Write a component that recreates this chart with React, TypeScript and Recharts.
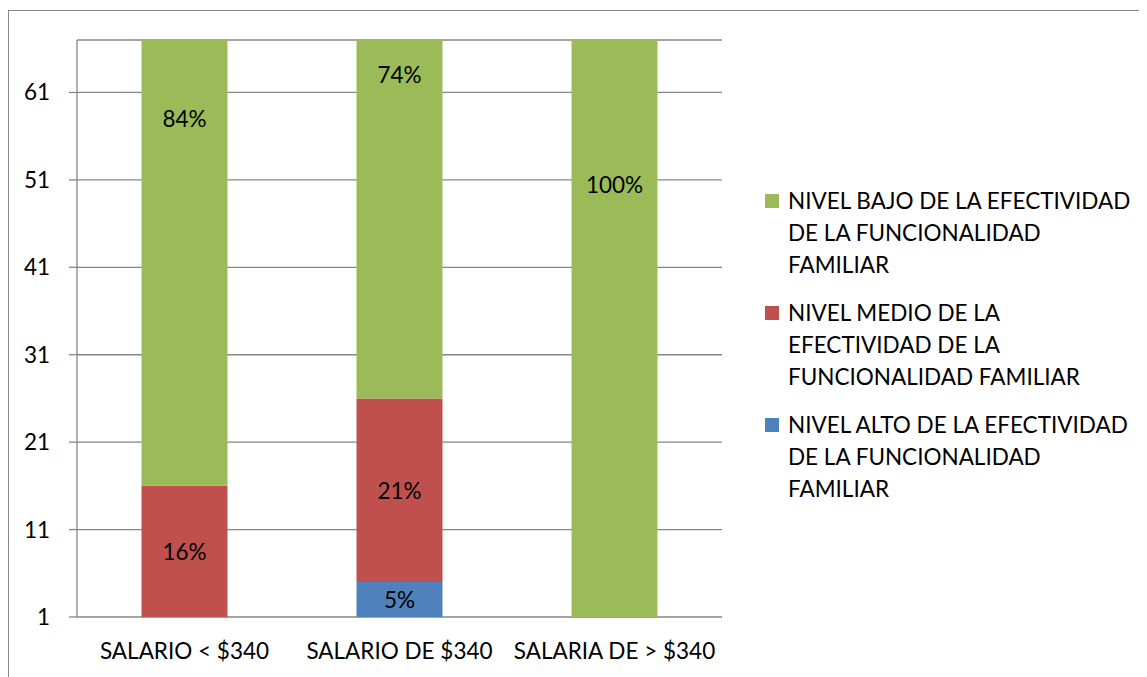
import React from 'react';
import * as RC from 'recharts';
import { BarChart, Bar, XAxis, YAxis, CartesianGrid, Legend, LabelList } from 'recharts';

const categories = ['SALARIO < $340', 'SALARIO DE $340', 'SALARIA DE > $340'];
const alto = [0, 5, 0];
const medio = [16, 21, 0];
const bajo = [84, 74, 100];
const yTicks = [1, 11, 21, 31, 41, 51, 61];
const boundaryTicks = [0, 1, 2, 3];

const seriesKeys = ['alto', 'medio', 'bajo'];
const seriesColors: Record<string, string> = { alto: '#4F81BD', medio: '#C0504D', bajo: '#9BBB59' };
const legendItems = [
  { key: 'bajo', lines: ['NIVEL BAJO DE LA EFECTIVIDAD', 'DE LA FUNCIONALIDAD', 'FAMILIAR'] },
  { key: 'medio', lines: ['NIVEL MEDIO DE LA', 'EFECTIVIDAD DE LA', 'FUNCIONALIDAD FAMILIAR'] },
  { key: 'alto', lines: ['NIVEL ALTO DE LA EFECTIVIDAD', 'DE LA FUNCIONALIDAD', 'FAMILIAR'] },
];
const seriesNames: Record<string, string> = {
  bajo: 'NIVEL BAJO DE LA EFECTIVIDAD DE LA FUNCIONALIDAD FAMILIAR',
  medio: 'NIVEL MEDIO DE LA EFECTIVIDAD DE LA FUNCIONALIDAD FAMILIAR',
  alto: 'NIVEL ALTO DE LA EFECTIVIDAD DE LA FUNCIONALIDAD FAMILIAR',
};

const Y_MIN = 1;
const Y_MAX = 67;

const data = categories.map((c, i) => ({ name: c, alto: alto[i], medio: medio[i], bajo: bajo[i] }));

const FONT = 'Lato, "Open Sans", sans-serif';
const FS = 22.5;
const GRID = '#868686';

const usePlotAreaSafe: () => any = (RC as any).usePlotArea || (() => null);

function SegLabel(props: any) {
  const plot = usePlotAreaSafe();
  const { x, y, width, height, value, index, seriesKey } = props;
  if (!value) return null;
  const row: any = data[index];
  const order = seriesKeys.indexOf(seriesKey);
  let start = 0;
  for (let k = 0; k < order; k++) start += row[seriesKeys[k]];
  let cy = y + height / 2;
  if (plot && plot.height) {
    const ppu = plot.height / (Y_MAX - Y_MIN);
    const px = (v: number) => plot.y + (Y_MAX - v) * ppu;
    cy = (px(start + value) + px(Math.max(start, Y_MIN))) / 2;
  }
  return (
    <text x={x + width / 2} y={cy} textAnchor="middle" dominantBaseline="central" fontSize={FS} fill="#000" fontFamily={FONT}>
      {value + '%'}
    </text>
  );
}

const LegendContent = () => (
  <div style={{ fontFamily: FONT, fontSize: FS, color: '#000' }}>
    {legendItems.map((it) => (
      <div key={it.key} style={{ display: 'flex', marginBottom: 16 }}>
        <div style={{ width: 14, height: 14, background: seriesColors[it.key], marginTop: 9, marginRight: 9, flexShrink: 0 }} />
        <div style={{ lineHeight: '32px', whiteSpace: 'nowrap' }}>
          {it.lines.map((l, j) => (
            <div key={j}>{l}</div>
          ))}
        </div>
      </div>
    ))}
  </div>
);

export default function App() {
  return (
    <div style={{ position: 'relative', width: 1139, height: 669, overflow: 'hidden', background: '#fff' }}>
      <div style={{ position: 'absolute', left: 0, top: 2, width: 1300, height: 800, borderLeft: `1px solid ${GRID}`, borderTop: `1px solid ${GRID}` }} />
      <BarChart
        width={1139}
        height={669}
        data={data}
        margin={{ top: 32, right: 425, left: 0, bottom: 0 }}
        barCategoryGap="30%"
        style={{ position: 'absolute', left: 0, top: 0 }}
      >
        <CartesianGrid vertical={false} stroke={GRID} strokeWidth={1.3} />
        <XAxis
          xAxisId="b"
          type="number"
          domain={[0, 3]}
          ticks={boundaryTicks}
          tick={false}
          height={0}
          axisLine={{ stroke: GRID, strokeWidth: 1.3 }}
          tickLine={{ stroke: GRID, strokeWidth: 1.3 }}
          tickSize={7}
        />
        <XAxis
          dataKey="name"
          height={60}
          axisLine={false}
          tickLine={false}
          tickSize={0}
          tickMargin={26}
          tick={{ fontSize: FS, fill: '#000', fontFamily: FONT }}
          interval={0}
        />
        <YAxis
          width={69}
          domain={[Y_MIN, Y_MAX]}
          allowDataOverflow
          ticks={yTicks}
          interval={0}
          axisLine={{ stroke: GRID, strokeWidth: 1.3 }}
          tickLine={{ stroke: GRID, strokeWidth: 1.3 }}
          tickSize={8}
          tickMargin={19}
          tick={{ fontSize: FS, fill: '#000', fontFamily: FONT }}
        />
        <Legend
          layout="vertical"
          align="center"
          verticalAlign="middle"
          content={LegendContent}
          wrapperStyle={{ position: 'absolute', left: 757, top: 177, width: 380, height: 'auto' }}
        />
        {seriesKeys.map((k) => (
          <Bar key={k} dataKey={k} name={seriesNames[k]} stackId="s" fill={seriesColors[k]} isAnimationActive={false}>
            <LabelList dataKey={k} content={(p: any) => <SegLabel {...p} seriesKey={k} />} />
          </Bar>
        ))}
      </BarChart>
    </div>
  );
}
